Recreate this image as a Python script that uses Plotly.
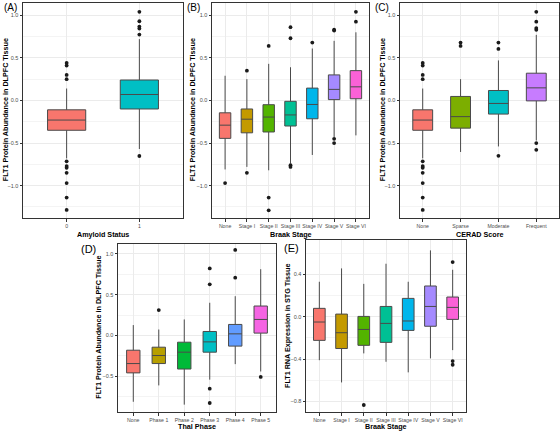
import plotly.graph_objects as go

W, H = 560, 431

# ---------------- Data ----------------
# Panel A: Amyloid status
a_cats = ["0", "1"]
a_q1 = [-0.35, -0.10]
a_med = [-0.23, 0.07]
a_q3 = [-0.11, 0.24]
a_lo = [-0.68, -0.57]
a_hi = [0.14, 0.72]
a_out = [[0.44, 0.41, 0.30, 0.25, -0.715, -0.77, -0.79, -0.85, -0.97, -1.14, -1.285],
         [1.04, 0.93, 0.867, 0.844, 0.773, -0.652]]
a_colors = ["#F8766D", "#00BFC4"]

# Panel B: Braak stage (DLPFC protein)
b_cats = ["None", "Stage I", "Stage II", "Stage III", "Stage IV", "Stage V", "Stage VI"]
b_q1 = [-0.445, -0.38, -0.37, -0.30, -0.215, 0.01, 0.02]
b_med = [-0.29, -0.22, -0.195, -0.17, -0.047, 0.13, 0.16]
b_q3 = [-0.145, -0.10, -0.05, -0.01, 0.145, 0.30, 0.35]
b_lo = [-0.81, -0.78, -0.82, -0.74, -0.64, -0.43, -0.41]
b_hi = [0.29, 0.25, 0.43, 0.39, 0.61, 0.70, 0.80]
b_out = [[-0.97], [0.35, -0.85], [0.64, -1.14, -1.29], [0.86, 0.73, -0.76, -0.78],
         [0.68], [0.83, 0.82, -0.45, -0.50], [1.04, 0.925]]
b_colors = ["#F8766D", "#C49A00", "#53B400", "#00C094", "#00B6EB", "#A58AFF", "#FB61D7"]

# Panel C: CERAD score
c_cats = ["None", "Sparse", "Moderate", "Frequent"]
c_q1 = [-0.35, -0.325, -0.16, -0.005]
c_med = [-0.23, -0.19, -0.035, 0.148]
c_q3 = [-0.11, 0.047, 0.117, 0.32]
c_lo = [-0.68, -0.605, -0.54, -0.47]
c_hi = [0.14, 0.25, 0.47, 0.77]
c_out = [[0.44, 0.41, 0.30, 0.25, -0.715, -0.77, -0.79, -0.85, -0.97, -1.14, -1.285],
         [0.68, 0.64], [0.68, 0.605, -0.65], [1.04, 0.925, 0.85, 0.83, -0.50, -0.58]]
c_colors = ["#F8766D", "#7CAE00", "#00BFC4", "#C77CFF"]

# Panel D: Thal phase
d_cats = ["None", "Phase 1", "Phase 2", "Phase 3", "Phase 4", "Phase 5"]
d_q1 = [-0.457, -0.343, -0.41, -0.204, -0.13, 0.029]
d_med = [-0.343, -0.245, -0.204, -0.078, 0.02, 0.196]
d_q3 = [-0.18, -0.143, -0.082, 0.049, 0.135, 0.36]
d_lo = [-0.81, -0.61, -0.845, -0.54, -0.35, -0.44]
d_hi = [0.127, 0.073, 0.196, 0.40, 0.48, 0.81]
d_out = [[], [0.31], [], [0.82, 0.625, -0.65, -0.825], [1.045, 0.706], [-0.506]]
d_colors = ["#F8766D", "#B79F00", "#00BA38", "#00BFC4", "#619CFF", "#F564E3"]

# Panel E: Braak stage (STG RNA)
e_cats = ["None", "Stage I", "Stage II", "Stage III", "Stage IV", "Stage V", "Stage VI"]
e_q1 = [-0.223, -0.30, -0.27, -0.242, -0.129, -0.09, -0.025]
e_med = [-0.05, -0.151, -0.12, -0.063, -0.04, 0.097, 0.088]
e_q3 = [0.079, 0.025, 0.003, 0.097, 0.173, 0.29, 0.186]
e_lo = [-0.41, -0.62, -0.346, -0.425, -0.525, -0.393, -0.315]
e_hi = [0.33, 0.456, 0.31, 0.50, 0.33, 0.626, 0.443]
e_out = [[], [], [-0.833], [], [], [], [0.516, -0.418, -0.453]]
e_colors = b_colors

panels = [
    dict(cats=a_cats, q1=a_q1, med=a_med, q3=a_q3, lo=a_lo, hi=a_hi, out=a_out, colors=a_colors,
         xd=(23, 183), yd=(2.5, 218), yr=(-1.38, 1.15), dtick=0.5,
         label="(A)", lab_xy=(2, 7.5), lab_size=10,
         xtitle="Amyloid Status", ytitle="FLT1 Protein Abundance in DLPFC Tissue",
         xt_y=234, yt_x=5),
    dict(cats=b_cats, q1=b_q1, med=b_med, q3=b_q3, lo=b_lo, hi=b_hi, out=b_out, colors=b_colors,
         xd=(212, 369), yd=(2.5, 218), yr=(-1.38, 1.15), dtick=0.5,
         label="(B)", lab_xy=(185, 7.5), lab_size=10,
         xtitle="Braak Stage", ytitle="FLT1 Protein Abundance in DLPFC Tissue",
         xt_y=234, yt_x=192),
    dict(cats=c_cats, q1=c_q1, med=c_med, q3=c_q3, lo=c_lo, hi=c_hi, out=c_out, colors=c_colors,
         xd=(400, 559), yd=(2.5, 218), yr=(-1.38, 1.15), dtick=0.5,
         label="(C)", lab_xy=(373, 7.5), lab_size=10,
         xtitle="CERAD Score", ytitle="FLT1 Protein Abundance in DLPFC Tissue",
         xt_y=234, yt_x=382),
    dict(cats=d_cats, q1=d_q1, med=d_med, q3=d_q3, lo=d_lo, hi=d_hi, out=d_out, colors=d_colors,
         xd=(118, 276), yd=(243.5, 412), yr=(-0.935, 1.124), dtick=0.5,
         label="(D)", lab_xy=(79, 249), lab_size=11,
         xtitle="Thal Phase", ytitle="FLT1 Protein Abundance in DLPFC Tissue",
         xt_y=426, yt_x=99),
    dict(cats=e_cats, q1=e_q1, med=e_med, q3=e_q3, lo=e_lo, hi=e_hi, out=e_out, colors=e_colors,
         xd=(306, 466), yd=(240, 412), yr=(-0.899, 0.724), dtick=0.4,
         label="(E)", lab_xy=(282, 247.5), lab_size=11,
         xtitle="Braak Stage", ytitle="FLT1 RNA Expression in STG Tissue",
         xt_y=426, yt_x=287),
]

FONT = "Liberation Sans, Arial, sans-serif"
fig = go.Figure()
annotations = []
layout_axes = {}

for i, p in enumerate(panels, start=1):
    xa, ya = f"x{i}", f"y{i}"
    for j, cat in enumerate(p["cats"]):
        fig.add_trace(go.Box(
            x=[cat], q1=[p["q1"][j]], median=[p["med"][j]], q3=[p["q3"][j]],
            lowerfence=[p["lo"][j]], upperfence=[p["hi"][j]],
            fillcolor=p["colors"][j], line=dict(color="#4a4a4a", width=1),
            whiskerwidth=0, boxpoints=False, showlegend=False,
            xaxis=xa, yaxis=ya,
        ))
    ox, oy = [], []
    for j, cat in enumerate(p["cats"]):
        for v in p["out"][j]:
            ox.append(cat)
            oy.append(v)
    fig.add_trace(go.Scatter(
        x=ox, y=oy, mode="markers", marker=dict(size=3.8, color="#1a1a1a"),
        showlegend=False, xaxis=xa, yaxis=ya,
    ))
    n = len(p["cats"])
    x0, x1 = p["xd"]
    ytop, ybot = p["yd"]
    layout_axes[f"xaxis{i}"] = dict(
        domain=[x0 / W, x1 / W], anchor=ya, type="category",
        categoryorder="array", categoryarray=p["cats"],
        range=[-0.6, n - 0.4], showgrid=True, gridcolor="#EBEBEB", gridwidth=1,
        showline=True, linecolor="#333333", linewidth=1, mirror=True,
        ticks="outside", ticklen=2.5, tickcolor="#333333", tickwidth=0.8,
        tickangle=0,
        tickfont=dict(size=5.2, color="#4D4D4D", family=FONT), zeroline=False,
    )
    layout_axes[f"yaxis{i}"] = dict(
        domain=[1 - ybot / H, 1 - ytop / H], anchor=xa, range=list(p["yr"]),
        dtick=p["dtick"], tick0=0, tickformat=".1f",
        showgrid=True, gridcolor="#EBEBEB", gridwidth=1,
        minor=dict(dtick=p["dtick"] / 2, tick0=0, showgrid=True, gridcolor="#F4F4F4",
                   gridwidth=0.6, ticks=""),
        showline=True, linecolor="#333333", linewidth=1, mirror=True,
        ticks="outside", ticklen=2.5, tickcolor="#333333", tickwidth=0.8,
        tickfont=dict(size=5.5, color="#4D4D4D", family=FONT), zeroline=False,
    )
    # panel label
    lx, ly = p["lab_xy"]
    annotations.append(dict(text=p["label"], x=lx / W, y=1 - ly / H, xref="paper", yref="paper",
                            xanchor="left", yanchor="middle", showarrow=False,
                            font=dict(size=p["lab_size"], color="black", family=FONT)))
    # x title
    annotations.append(dict(text=f"<b>{p['xtitle']}</b>", x=(x0 + x1) / 2 / W, y=1 - p["xt_y"] / H,
                            xref="paper", yref="paper", xanchor="center", yanchor="middle",
                            showarrow=False, font=dict(size=7.2, color="black", family=FONT)))
    # y title
    annotations.append(dict(text=f"<b>{p['ytitle']}</b>", x=p["yt_x"] / W,
                            y=1 - (ytop + ybot) / 2 / H, xref="paper", yref="paper",
                            xanchor="center", yanchor="middle", textangle=-90,
                            showarrow=False, font=dict(size=7.2, color="black", family=FONT)))

fig.update_layout(
    width=W, height=H, margin=dict(l=0, r=0, t=0, b=0),
    paper_bgcolor="white", plot_bgcolor="white",
    boxmode="overlay", boxgap=0.25, showlegend=False,
    annotations=annotations, font=dict(family=FONT),
    **layout_axes,
)

fig.write_html("out.html")
